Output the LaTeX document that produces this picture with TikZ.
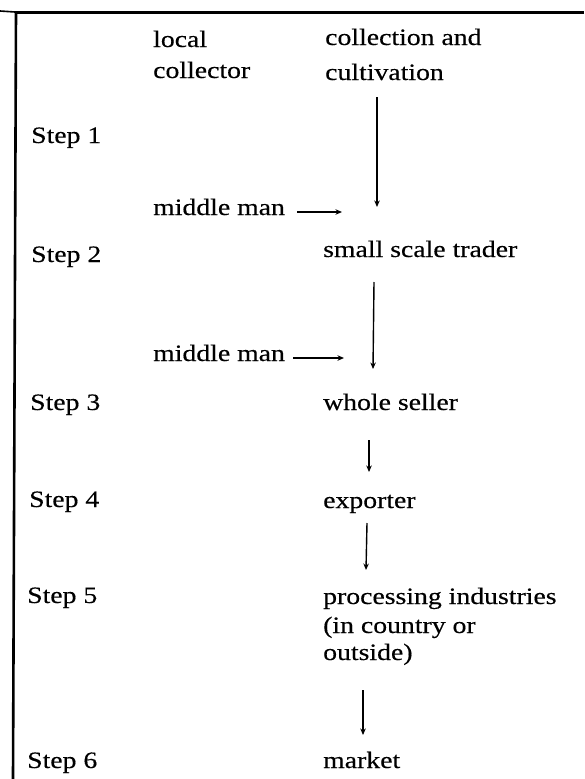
\documentclass[tikz,border=0pt]{standalone}
\usepackage{fontspec}
\setmainfont[FakeStretch=1.18,FakeBold=0.35]{Liberation Serif}
\usetikzlibrary{arrows.meta}
\begin{document}
\begin{tikzpicture}[x=1pt,y=-1pt,
  lbl/.style={anchor=base west, inner sep=0pt, font=\fontsize{23.5}{28}\selectfont},
  arr/.style={line width=1.4pt, -{Stealth[length=6.5pt,width=5.5pt]}},
  rulethick/.style={line width=3pt},
  rulethin/.style={line width=1.6pt}]
\useasboundingbox (0,0) rectangle (584,779);
% frame lines
\coordinate (tl0) at (0,11);
\coordinate (tl1) at (15,12);
\coordinate (tl2) at (584,12);
\coordinate (vl0) at (16,12);
\coordinate (vl1) at (13,779);
\draw[rulethin] (tl0) -- (tl1);
\draw[rulethick] (tl1) -- (tl2);
\draw[line width=2.6pt] (vl0) -- (vl1);
% labels
\node[lbl] (loc1) at (153,47) {local};
\node[lbl] (loc2) at (153,78) {collector};
\node[lbl] (col1) at (325,45) {collection and};
\node[lbl] (col2) at (325,80) {cultivation};
\node[lbl] (s1) at (31,143) {Step 1};
\node[lbl] (mm1) at (153,215) {middle man};
\node[lbl] (s2) at (31,262) {Step 2};
\node[lbl] (sst) at (323,257) {small scale trader};
\node[lbl] (mm2) at (153,361) {middle man};
\node[lbl] (s3) at (30,410) {Step 3};
\node[lbl] (ws) at (323,410) {whole seller};
\node[lbl] (s4) at (29,507) {Step 4};
\node[lbl] (exp) at (323,508) {exporter};
\node[lbl] (s5) at (27,603) {Step 5};
\node[lbl] (pi1) at (323,604) {processing industries};
\node[lbl] (pi2) at (323,633) {(in country or};
\node[lbl] (pi3) at (323,660) {outside)};
\node[lbl] (s6) at (27,768) {Step 6};
\node[lbl] (mkt) at (323,768) {market};
% arrow end points
\coordinate (a1s) at (377,97);
\coordinate (a1e) at (377,207);
\coordinate (m1s) at (297,212);
\coordinate (m1e) at (342,212);
\coordinate (a2s) at (374,282);
\coordinate (a2e) at (373,369);
\coordinate (m2s) at (293,358);
\coordinate (m2e) at (344,358);
\coordinate (a3s) at (369,440);
\coordinate (a3e) at (369,472);
\coordinate (a4s) at (367,523);
\coordinate (a4e) at (366,570);
\coordinate (a5s) at (363,690);
\coordinate (a5e) at (363,735);
\draw[arr] (a1s) -- (a1e);
\draw[arr] (m1s) -- (m1e);
\draw[arr] (a2s) -- (a2e);
\draw[arr] (m2s) -- (m2e);
\draw[arr] (a3s) -- (a3e);
\draw[arr] (a4s) -- (a4e);
\draw[arr] (a5s) -- (a5e);
\end{tikzpicture}
\end{document}
